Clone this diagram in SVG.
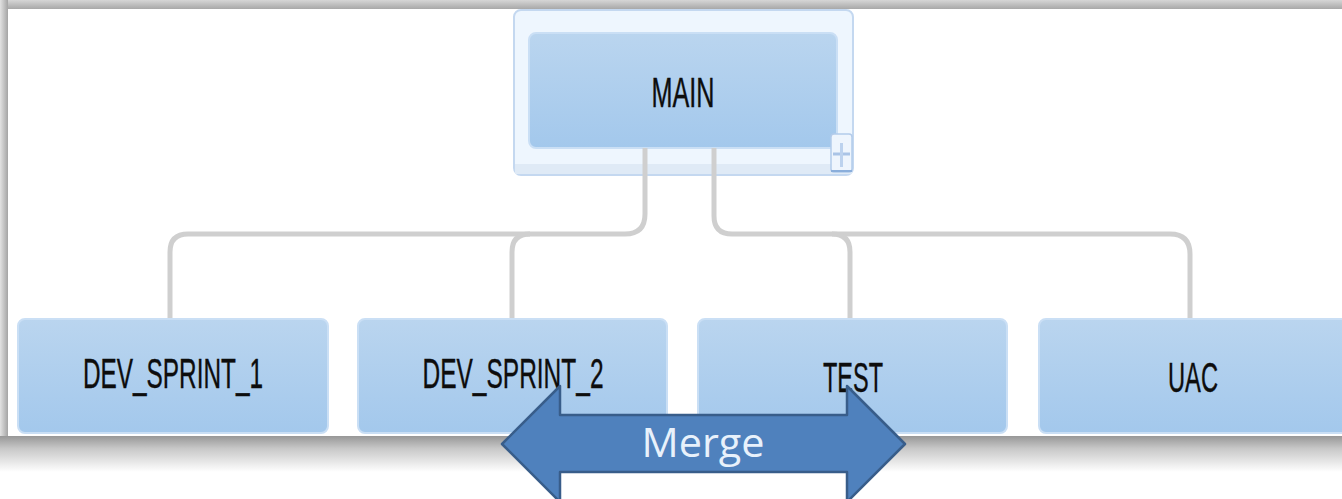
<svg xmlns="http://www.w3.org/2000/svg" width="1342" height="499" viewBox="0 0 1342 499">
<defs>
<linearGradient id="boxg" x1="0" y1="0" x2="0" y2="1">
<stop offset="0" stop-color="#bad5ef"/>
<stop offset="1" stop-color="#a3c8ec"/>
</linearGradient>
<linearGradient id="shTop" x1="0" y1="0" x2="0" y2="1">
<stop offset="0" stop-color="#d6d6d6"/>
<stop offset="1" stop-color="#a8a8a8"/>
</linearGradient>
<linearGradient id="shLeft" x1="0" y1="0" x2="1" y2="0">
<stop offset="0" stop-color="#e2e2e2"/>
<stop offset="1" stop-color="#a4a4a4"/>
</linearGradient>
<linearGradient id="shBot" x1="0" y1="0" x2="0" y2="1">
<stop offset="0" stop-color="#979797"/>
<stop offset="0.35" stop-color="#c8c8c8"/>
<stop offset="1" stop-color="#ffffff"/>
</linearGradient>
<style>
.box{fill:url(#boxg);stroke:#cadff5;stroke-width:2}
.lbl{font-family:"Liberation Sans Narrow","Liberation Sans",Arial,sans-serif;font-size:42px;fill:#0d0d0d;text-anchor:middle;stroke:#0d0d0d;stroke-width:0.4}
.con{fill:none;stroke:#cfcfcf;stroke-width:5}
</style>
</defs>
<rect x="0" y="0" width="1342" height="499" fill="#fff"/>
<rect x="0" y="0" width="1342" height="9" fill="url(#shTop)"/>
<rect x="0" y="0" width="8" height="445" fill="url(#shLeft)"/>
<rect x="0" y="436" width="1342" height="36" fill="url(#shBot)"/>
<rect x="8" y="9" width="1334" height="427" fill="#fff"/>

<g id="node-main">
<rect x="514" y="10" width="339" height="165" rx="7" fill="#eef6fe" stroke="#c4d8f0" stroke-width="2"/>
<rect x="515" y="164" width="337" height="10" fill="#dfeaf6"/>
<rect x="529" y="33" width="308" height="115" rx="7" class="box"/>
<text class="lbl" x="683" y="107" textLength="63" lengthAdjust="spacingAndGlyphs">MAIN</text>
<g id="expand">
<rect x="831" y="134" width="21" height="38" rx="3" fill="#eef5fd" stroke="#b3cbea" stroke-width="1.5"/>
<line x1="831" y1="171" x2="852" y2="171" stroke="#8aaedb" stroke-width="2"/>
<line x1="833" y1="154" x2="850" y2="154" stroke="#aac4e6" stroke-width="3"/>
<line x1="841.5" y1="143" x2="841.5" y2="167" stroke="#bcd2ee" stroke-width="3"/>
</g>
</g>

<g id="connectors">
<path class="con" d="M645,148 V214 Q645,234 625,234 H188 Q170,234 170,252 V319"/>
<path class="con" d="M530,234 Q512,234 512,252 V319"/>
<path class="con" d="M714,148 V216 Q714,234 732,234 H1170 Q1190,234 1190,254 V319"/>
<path class="con" d="M832,234 Q850,234 850,252 V319"/>
</g>

<g id="node-dev1">
<rect x="18" y="319" width="310" height="114" rx="7" class="box"/>
<text class="lbl" x="173" y="388" textLength="180" lengthAdjust="spacingAndGlyphs">DEV_SPRINT_1</text>
</g>
<g id="node-dev2">
<rect x="358" y="319" width="309" height="114" rx="7" class="box"/>
<text class="lbl" x="513" y="388" textLength="181" lengthAdjust="spacingAndGlyphs">DEV_SPRINT_2</text>
</g>
<g id="node-test">
<rect x="698" y="319" width="309" height="114" rx="7" class="box"/>
<text class="lbl" x="853" y="392" textLength="60" lengthAdjust="spacingAndGlyphs">TEST</text>
</g>
<g id="node-uac">
<rect x="1039" y="319" width="312" height="114" rx="7" class="box"/>
<text class="lbl" x="1193" y="392" textLength="50" lengthAdjust="spacingAndGlyphs">UAC</text>
</g>

<g id="merge">
<path d="M502,444 L560,386 V415 H847 V386 L905,444 L847,502 V472 H560 V502 Z" fill="#4f81bd" stroke="#385d8a" stroke-width="2.5" stroke-linejoin="round"/>
<text x="703" y="457" font-family="'Open Sans','Noto Sans','Liberation Sans',sans-serif" font-size="40" fill="#e8f1fb" text-anchor="middle" textLength="123" lengthAdjust="spacingAndGlyphs">Merge</text>
</g>
</svg>
